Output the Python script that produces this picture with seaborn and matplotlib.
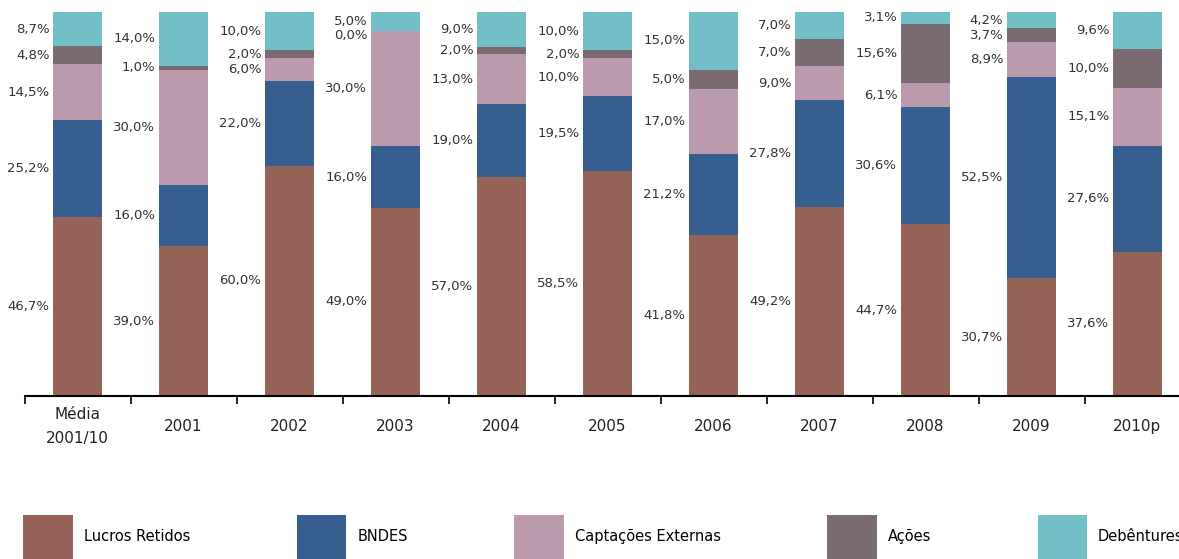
import matplotlib
matplotlib.use("Agg")
import matplotlib.pyplot as plt
import seaborn as sns
import pandas as pd
import numpy as np

categories = ["Média\n2001/10", "2001", "2002", "2003", "2004", "2005",
              "2006", "2007", "2008", "2009", "2010p"]
series = ["Lucros Retidos", "BNDES", "Captações Externas", "Ações", "Debêntures"]
lucros = [46.7, 39.0, 60.0, 49.0, 57.0, 58.5, 41.8, 49.2, 44.7, 30.7, 37.6]
bndes = [25.2, 16.0, 22.0, 16.0, 19.0, 19.5, 21.2, 27.8, 30.6, 52.5, 27.6]
captacoes = [14.5, 30.0, 6.0, 30.0, 13.0, 10.0, 17.0, 9.0, 6.1, 8.9, 15.1]
acoes = [4.8, 1.0, 2.0, 0.0, 2.0, 2.0, 5.0, 7.0, 15.6, 3.7, 10.0]
debentures = [8.7, 14.0, 10.0, 5.0, 9.0, 10.0, 15.0, 7.0, 3.1, 4.2, 9.6]
colors = ["#956358", "#365f8f", "#bb9aad", "#7a6b72", "#72bfc8"]

values = [lucros, bndes, captacoes, acoes, debentures]
df = pd.DataFrame({"cat": categories})

fig = plt.figure(figsize=(11.79, 5.59), dpi=100)
# axes extends past the right edge like the original
ax = fig.add_axes([24.5 / 1179, 163 / 559, 1166 / 1179, 384 / 559])

bottom = np.zeros(len(categories))
for name, vals, col in zip(series, values, colors):
    df["v"] = vals
    sns.barplot(data=df, x="cat", y="v", color=col, width=0.46,
                bottom=bottom.copy(), ax=ax, label=name, saturation=1,
                linewidth=0)
    for i, v in enumerate(vals):
        y = bottom[i] + v / 2
        if name == "Ações" and categories[i] == "2003":
            y -= 1.0
        ax.text(i - 0.265, y, f"{v:.1f}%".replace(".", ","), ha="right",
                va="center", fontsize=9.5, color="#333333")
    bottom += np.array(vals)

ax.set_ylim(0, 100)
ax.set_xlim(-0.5, 10.5)
ax.set_xlabel("")
ax.set_ylabel("")
ax.set_yticks([])
for s in ["top", "right", "left"]:
    ax.spines[s].set_visible(False)
ax.spines["bottom"].set_linewidth(1.5)
ax.set_xticks(range(len(categories)))
ax.set_xticklabels(categories, fontsize=11, color="#222222", linespacing=1.8)
for t in ax.get_xticklabels():
    t.set_verticalalignment("center")
ax.tick_params(axis="x", which="major", length=0, pad=22)
ax.set_xticks(np.arange(-0.5, 10.6, 1), minor=True)
ax.tick_params(axis="x", which="minor", length=6, width=1.2, direction="out")

# legend sits at the bottom edge and is cut off, as in the source
ax.legend(loc="upper left", bbox_to_anchor=(-0.006, -0.296), ncol=5,
          frameon=False, fontsize=10.5, handlelength=3.4, handleheight=4.3,
          handletextpad=0.75, columnspacing=7.3, borderaxespad=0)

fig.savefig("out.png", dpi=100)
